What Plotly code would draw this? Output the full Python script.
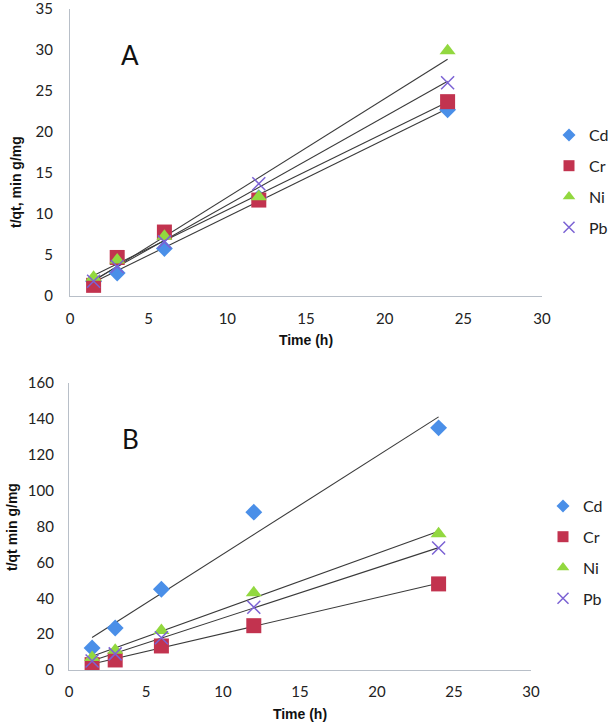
import numpy as np
import plotly.graph_objects as go

time_h = [1.5, 3, 6, 12, 24]
metals = ["Cd", "Cr", "Ni", "Pb"]

# Panel A
a_cd = [1.8, 2.8, 5.8, 12.0, 22.7]
a_cr = [1.3, 4.7, 7.8, 11.7, 23.7]
a_ni = [2.3, 4.4, 7.3, 12.1, 29.9]
a_pb = [1.8, 3.6, 6.6, 13.7, 26.0]

# Panel B
b_cd = [12.3, 23.4, 45.0, 88.0, 135.0]
b_cr = [3.0, 5.6, 13.4, 24.7, 48.0]
b_ni = [7.0, 11.0, 22.0, 43.0, 76.0]
b_pb = [5.0, 9.0, 18.0, 35.0, 68.0]

ytitle_a = "t/qt, min g/mg"
ytitle_b = "t/qt min g/mg"
xtitle = "Time (h)"

colors = {"Cd": "#4a8fe8", "Cr": "#c2334f", "Ni": "#92d83f", "Pb": "#7b62d4"}
symbols = {"Cd": "diamond", "Cr": "square", "Ni": "triangle-up", "Pb": "x-thin"}
sizes = {"Cd": 13, "Cr": 15, "Ni": 14, "Pb": 13}
leg_sizes = {"Cd": 10, "Cr": 11, "Ni": 11, "Pb": 11}

W, H = 614, 727

fig = go.Figure()

panels = [
    ("x", "y", "legend", dict(zip(metals, [a_cd, a_cr, a_ni, a_pb]))),
    ("x2", "y2", "legend2", dict(zip(metals, [b_cd, b_cr, b_ni, b_pb]))),
]


def marker(m, size):
    mk = dict(symbol=symbols[m], size=size, color=colors[m])
    if m == "Pb":
        mk["line"] = dict(color=colors[m], width=1.5)
    else:
        mk["line"] = dict(width=0)
    return mk


for xa, ya, leg, data in panels:
    # linear trendlines
    for m in metals:
        k, b = np.polyfit(time_h, data[m], 1)
        xs = [time_h[0], time_h[-1]]
        fig.add_trace(go.Scatter(x=xs, y=[k * v + b for v in xs], mode="lines",
                                 line=dict(color="#3a3a3a", width=1.1),
                                 xaxis=xa, yaxis=ya, showlegend=False, hoverinfo="skip"))
    for m in metals:
        fig.add_trace(go.Scatter(x=time_h, y=data[m], mode="markers", name=m,
                                 marker=marker(m, sizes[m]), xaxis=xa, yaxis=ya,
                                 showlegend=False, legendgroup=leg + m))
        # legend entry with smaller symbol
        fig.add_trace(go.Scatter(x=[None], y=[None], mode="markers", name=m,
                                 marker=marker(m, leg_sizes[m]), xaxis=xa, yaxis=ya,
                                 legend=leg, legendgroup=leg + m))

tickfont = dict(family="Lato, Open Sans, sans-serif", size=15, color="#222")
titlefont = dict(family="Liberation Sans, Arial, sans-serif", size=14, color="#111", weight="bold")
axcommon = dict(showgrid=False, zeroline=False, showline=True, linecolor="#b8bfc8",
                linewidth=1.2, ticks="outside", tickcolor="rgba(0,0,0,0)",
                tickfont=tickfont, automargin=False, ticklabeloverflow="allow")
legfont = dict(family="Lato, Open Sans, sans-serif", size=16, color="#222")

fig.update_layout(
    width=W, height=H,
    margin=dict(l=0, r=0, t=0, b=0, autoexpand=False),
    paper_bgcolor="white", plot_bgcolor="white",
    xaxis=dict(domain=[70 / W, 542 / W], range=[0, 30], dtick=5, anchor="y", ticklen=9,
               title=dict(text=xtitle, font=titlefont, standoff=9), **axcommon),
    yaxis=dict(domain=[1 - 296 / H, 1 - 9 / H], range=[0, 35], dtick=5, anchor="x", ticklen=13,
               **axcommon),
    xaxis2=dict(domain=[69 / W, 531 / W], range=[0, 30], dtick=5, anchor="y2", ticklen=8,
                title=dict(text=xtitle, font=titlefont, standoff=10), **axcommon),
    yaxis2=dict(domain=[1 - 670 / H, 1 - 383 / H], range=[0, 160], dtick=20, anchor="x2", ticklen=11,
                **axcommon),
    legend=dict(x=1.0, y=1 - 118 / H, xanchor="right", yanchor="top",
                font=legfont, itemwidth=30, tracegroupgap=7, bgcolor="rgba(0,0,0,0)"),
    legend2=dict(x=543 / W, y=1 - 489 / H, xanchor="left", yanchor="top",
                 font=legfont, itemwidth=30, tracegroupgap=7, bgcolor="rgba(0,0,0,0)"),
    annotations=[
        dict(x=3.8, y=29.4, xref="x", yref="y", text="A", showarrow=False,
             font=dict(family="Lato, Open Sans, sans-serif", size=26, color="#111")),
        dict(x=4.0, y=128.8, xref="x2", yref="y2", text="B", showarrow=False,
             font=dict(family="Lato, Open Sans, sans-serif", size=26, color="#111")),
        dict(x=16 / W, y=1 - 182 / H, xref="paper", yref="paper", text=ytitle_a,
             textangle=-90, showarrow=False, font=titlefont,
             xanchor="center", yanchor="middle"),
        dict(x=12 / W, y=1 - 527 / H, xref="paper", yref="paper", text=ytitle_b,
             textangle=-90, showarrow=False, font=titlefont,
             xanchor="center", yanchor="middle"),
    ],
)

fig.write_html("out.html")
